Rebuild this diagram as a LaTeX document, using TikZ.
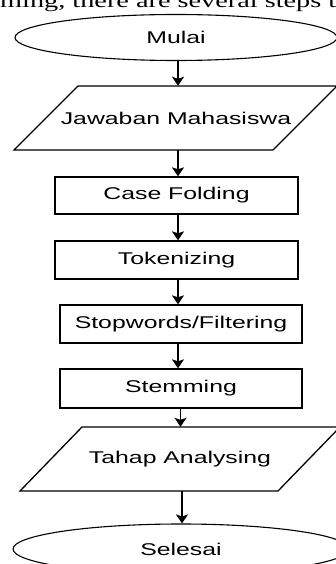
\documentclass[tikz,border=0pt]{standalone}
\usepackage{fontspec}
\setmainfont{Liberation Sans}
\newfontfamily\serifpage{Liberation Serif}
\usetikzlibrary{shapes.geometric,arrows.meta}
\tikzset{
  lbl/.style={font=\fontsize{17}{18}\selectfont, text=black},
  startend/.style={ellipse, draw, line width=1.1pt, inner sep=0pt, lbl},
  procbox/.style={rectangle, draw, line width=1.3pt, inner sep=0pt, lbl},
  iobox/.style={rectangle, inner sep=0pt, lbl},
  iopath/.style={draw, line width=1.3pt},
  arr/.style={line width=1.4pt, -{Stealth[width=12pt,length=9pt,inset=2pt]}},
}
\newcommand{\wide}[1]{\scalebox{1.46}[1]{#1}}
\begin{document}
\begin{tikzpicture}[x=1pt,y=-1pt]
\useasboundingbox (0,0) rectangle (336,564);
% cut-off page text at top
\node[anchor=base west, inner sep=0pt, font=\serifpage\fontsize{19.5}{20}\selectfont] (pagetext) at (-22,7.5) {\scalebox{1.45}[1]{mming, there are several steps that}};
% shapes
\node[startend, minimum width=322pt, minimum height=46pt] (mulai) at (176,37.5) {\wide{Mulai}};
\draw[iopath] (78,86) -- (337,86) -- (273,150) -- (14,150) -- cycle;
\node[iobox, minimum width=195pt, minimum height=64pt] (jm) at (176,118) {\wide{Jawaban Mahasiswa}};
\node[procbox, minimum width=243pt, minimum height=37pt] (cf) at (176.5,195.5) {\wide{Case Folding}};
\node[procbox, minimum width=243pt, minimum height=38pt] (tok) at (176.5,260) {\wide{Tokenizing}};
\node[procbox, minimum width=242pt, minimum height=38pt] (stop) at (181,324) {\wide{Stopwords/Filtering}};
\node[procbox, minimum width=242pt, minimum height=39pt] (stem) at (181,388.5) {\wide{Stemming}};
\draw[iopath] (82,427) -- (340,427) -- (278,491) -- (20,491) -- cycle;
\node[iobox, minimum width=196pt, minimum height=64pt] (tahap) at (180,459) {\wide{Tahap Analysing}};
\node[startend, minimum width=336pt, minimum height=50pt] (selesai) at (181,549) {\wide{Selesai}};
% connectors
\draw[arr] (178,0 |- mulai.south) -- (178,0 |- jm.north);
\draw[arr] (178,0 |- jm.south) -- (178,0 |- cf.north);
\draw[arr] (178,0 |- cf.south) -- (178,0 |- tok.north);
\draw[arr] (178,0 |- tok.south) -- (178,0 |- stop.north);
\draw[arr] (178,0 |- stop.south) -- (178,0 |- stem.north);
\draw[arr] (180.5,0 |- stem.south) -- (180.5,0 |- tahap.north);
\draw[arr] (182,0 |- tahap.south) -- (182,0 |- selesai.north);
\end{tikzpicture}
\end{document}
